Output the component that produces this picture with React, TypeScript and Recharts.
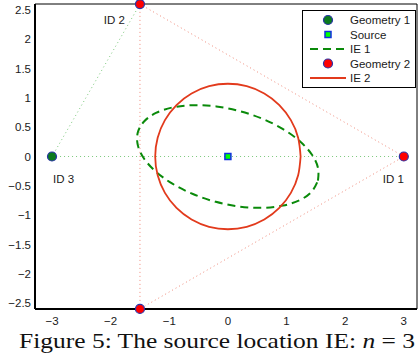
import { ComposedChart, Line, Scatter, XAxis, YAxis } from "recharts"

const xTicks = [-3, -2, -1, 0, 1, 2, 3]
const yTicks = [-2.5, -2, -1.5, -1, -0.5, 0, 0.5, 1, 1.5, 2, 2.5]
const xDomain = [-3.29, 3.225]
const yDomain = [-2.6, 2.6]

// sensor positions
const geometry1 = [{ x: -3, y: 0, id: "ID 3" }]
const geometry2 = [
  { x: 3, y: 0, id: "ID 1" },
  { x: -1.5, y: 2.598, id: "ID 2" },
  { x: -1.5, y: -2.598, id: "" },
]
const source = [{ x: 0, y: 0 }]

// dotted baselines
const links1 = [
  { x: -1.5, y: 2.598 },
  { x: -3, y: 0 },
  { x: 3, y: 0 },
]
const links2 = [
  { x: -1.5, y: -2.598 },
  { x: -1.5, y: 2.598 },
  { x: 3, y: 0 },
  { x: -1.5, y: -2.598 },
]

// IE 1 outline (tilted ellipse)
const ie1 = [
  { x: 1.536, y: -0.412 }, { x: 1.537, y: -0.197 }, { x: 1.434, y: 0.03 },
  { x: 1.232, y: 0.255 }, { x: 0.947, y: 0.463 }, { x: 0.597, y: 0.64 },
  { x: 0.207, y: 0.773 }, { x: -0.197, y: 0.853 }, { x: -0.589, y: 0.875 },
  { x: -0.94, y: 0.837 }, { x: -1.227, y: 0.743 }, { x: -1.43, y: 0.597 },
  { x: -1.536, y: 0.412 }, { x: -1.537, y: 0.197 }, { x: -1.434, y: -0.03 },
  { x: -1.232, y: -0.255 }, { x: -0.947, y: -0.463 }, { x: -0.597, y: -0.64 },
  { x: -0.207, y: -0.773 }, { x: 0.197, y: -0.853 }, { x: 0.589, y: -0.875 },
  { x: 0.94, y: -0.837 }, { x: 1.227, y: -0.743 }, { x: 1.43, y: -0.597 },
  { x: 1.536, y: -0.412 },
]

// IE 2 outline (circle)
const ie2 = [
  { x: 1.24, y: 0 }, { x: 1.198, y: 0.321 }, { x: 1.074, y: 0.62 },
  { x: 0.877, y: 0.877 }, { x: 0.62, y: 1.074 }, { x: 0.321, y: 1.198 },
  { x: 0, y: 1.24 }, { x: -0.321, y: 1.198 }, { x: -0.62, y: 1.074 },
  { x: -0.877, y: 0.877 }, { x: -1.074, y: 0.62 }, { x: -1.198, y: 0.321 },
  { x: -1.24, y: 0 }, { x: -1.198, y: -0.321 }, { x: -1.074, y: -0.62 },
  { x: -0.877, y: -0.877 }, { x: -0.62, y: -1.074 }, { x: -0.321, y: -1.198 },
  { x: 0, y: -1.24 }, { x: 0.321, y: -1.198 }, { x: 0.62, y: -1.074 },
  { x: 0.877, y: -0.877 }, { x: 1.074, y: -0.62 }, { x: 1.198, y: -0.321 },
  { x: 1.24, y: 0 },
]

const legendItems = [
  { label: "Geometry 1", kind: "dot", color: "#0b7a1e" },
  { label: "Source", kind: "square", color: "#00ff00" },
  { label: "IE 1", kind: "dash", color: "#0a8a0a" },
  { label: "Geometry 2", kind: "dot", color: "#ff0000" },
  { label: "IE 2", kind: "line", color: "#e23a1c" },
]

const EDGE = "#2a33a8"
const SANS = "'Liberation Sans', Arial, sans-serif"
const tickStyle = { fontFamily: SANS, fontSize: 11.5, fill: "#1a1a1a" }
const fmt = (v: number) => String(v).replace("-", "\u2212")

const labelPos: Record<string, { dx: number; dy: number; anchor: "start" | "end" }> = {
  "ID 1": { dx: 0, dy: 22, anchor: "end" },
  "ID 2": { dx: -15, dy: 16, anchor: "end" },
  "ID 3": { dx: 1, dy: 22, anchor: "start" },
}

const dotShape = (fill: string) => (props: any) => {
  const { cx, cy, payload } = props
  const p = labelPos[payload.id]
  return (
    <g>
      <circle cx={cx} cy={cy} r={4.5} fill={fill} stroke={EDGE} strokeWidth={1.2} />
      {p && (
        <text
          x={cx + p.dx}
          y={cy + p.dy}
          textAnchor={p.anchor}
          dominantBaseline="central"
          fontFamily={SANS}
          fontSize={11.5}
          fill="#1a1a1a"
        >
          {payload.id}
        </text>
      )}
    </g>
  )
}

const squareShape = (props: any) => (
  <rect x={props.cx - 3} y={props.cy - 3} width={6} height={6} fill="#00ff00" stroke="#1030e0" strokeWidth={1.5} />
)

function LegendBox() {
  return (
    <g>
      <rect x={302.5} y={10.5} width={113} height={77} fill="#fff" stroke="#000" strokeWidth={1} />
      {legendItems.map((it, i) => {
        const y = 20 + i * 14.5
        return (
          <g key={it.label}>
            {it.kind === "dot" && <circle cx={328} cy={y} r={4.5} fill={it.color} stroke={EDGE} strokeWidth={1.2} />}
            {it.kind === "square" && (
              <rect x={325} y={y - 3} width={6} height={6} fill={it.color} stroke="#1030e0" strokeWidth={1.5} />
            )}
            {it.kind === "dash" && (
              <line x1={310} x2={346} y1={y} y2={y} stroke={it.color} strokeWidth={2} strokeDasharray="8 5" />
            )}
            {it.kind === "line" && <line x1={310} x2={346} y1={y} y2={y} stroke={it.color} strokeWidth={1.8} />}
            <text x={350} y={y} dominantBaseline="central" fontFamily={SANS} fontSize={11.5} fill="#1a1a1a">
              {it.label}
            </text>
          </g>
        )
      })}
    </g>
  )
}

export default function App() {
  return (
    <div style={{ position: "absolute", left: 0, top: 0, width: 419, height: 356, background: "#fff" }}>
      <ComposedChart width={419} height={356} margin={{ top: 4, right: 2, bottom: 0, left: 0 }}>
        <XAxis
          type="number"
          dataKey="x"
          domain={xDomain}
          ticks={xTicks}
          interval={0}
          tickFormatter={fmt}
          tick={tickStyle}
          tickLine={false}
          tickSize={0}
          tickMargin={8}
          height={47}
          axisLine={{ stroke: "#000", strokeWidth: 2 }}
        />
        <XAxis
          xAxisId="inB"
          type="number"
          dataKey="x"
          domain={xDomain}
          ticks={xTicks}
          interval={0}
          allowDataOverflow
          mirror
          tick={false}
          tickSize={4}
          tickLine={{ stroke: "#000" }}
          axisLine={false}
        />
        <XAxis
          xAxisId="top"
          orientation="top"
          type="number"
          dataKey="x"
          domain={xDomain}
          ticks={xTicks}
          interval={0}
          allowDataOverflow
          mirror
          tick={false}
          tickSize={4}
          tickLine={{ stroke: "#000" }}
          axisLine={{ stroke: "#000", strokeWidth: 1 }}
        />
        <YAxis
          type="number"
          dataKey="y"
          domain={yDomain}
          ticks={yTicks}
          interval={0}
          tickFormatter={fmt}
          tick={tickStyle}
          tickLine={false}
          tickSize={0}
          tickMargin={4}
          width={35}
          axisLine={{ stroke: "#000", strokeWidth: 2 }}
        />
        <YAxis
          yAxisId="inL"
          type="number"
          dataKey="y"
          domain={yDomain}
          ticks={yTicks}
          interval={0}
          allowDataOverflow
          mirror
          tick={false}
          tickSize={3}
          tickLine={{ stroke: "#000" }}
          axisLine={false}
        />
        <YAxis
          yAxisId="right"
          orientation="right"
          type="number"
          dataKey="y"
          domain={yDomain}
          ticks={yTicks}
          interval={0}
          allowDataOverflow
          mirror
          tick={false}
          tickSize={3}
          tickLine={{ stroke: "#000" }}
          axisLine={{ stroke: "#000", strokeWidth: 1 }}
        />

        <Line data={links1} dataKey="y" stroke="#7cc97c" strokeWidth={1} strokeDasharray="1 3" dot={false} activeDot={false} isAnimationActive={false} />
        <Line data={links2} dataKey="y" stroke="#f08a7a" strokeWidth={1} strokeDasharray="1 3" dot={false} activeDot={false} isAnimationActive={false} />
        <Line type="natural" data={ie1} dataKey="y" stroke="#0a8a0a" strokeWidth={2} strokeDasharray="8 5" dot={false} activeDot={false} isAnimationActive={false} />
        <Line type="natural" data={ie2} dataKey="y" stroke="#e23a1c" strokeWidth={1.8} dot={false} activeDot={false} isAnimationActive={false} />
        <Scatter data={geometry1} dataKey="y" shape={dotShape("#0b7a1e")} isAnimationActive={false} />
        <Scatter data={source} dataKey="y" shape={squareShape} isAnimationActive={false} />
        <Scatter data={geometry2} dataKey="y" shape={dotShape("#ff0000")} isAnimationActive={false} />
      </ComposedChart>
      <svg width={419} height={356} style={{ position: "absolute", left: 0, top: 0, pointerEvents: "none" }}>
        <LegendBox />
        <text
          x={19}
          y={348}
          textLength={396}
          lengthAdjust="spacingAndGlyphs"
          fontFamily="'Liberation Serif', 'DejaVu Serif', serif"
          fontSize={21}
          fill="#111"
        >
          Figure 5: The source location IE: <tspan fontStyle="italic">n</tspan> = 3
        </text>
      </svg>
    </div>
  )
}
